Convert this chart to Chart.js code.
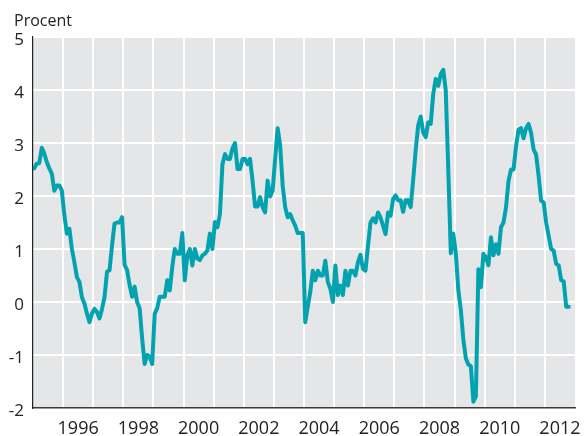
<!DOCTYPE html>
<html>
<head>
<meta charset="utf-8">
<script src="https://cdn.jsdelivr.net/npm/chart.js@4.4.1/dist/chart.umd.min.js"></script>
<style>
  html, body { margin: 0; padding: 0; background: #ffffff; }
  #wrap { width: 585px; height: 436px; position: relative; }
</style>
</head>
<body>
<div id="wrap"><canvas id="c" width="585" height="436"></canvas></div>
<script>
// Monthly values (Procent), one array per year, January first
const v1995 = [2.52, 2.61, 2.62, 2.91, 2.80, 2.64, 2.52, 2.42, 2.10, 2.20, 2.20, 2.10];
const v1996 = [1.64, 1.29, 1.38, 1.00, 0.75, 0.47, 0.38, 0.09, -0.03, -0.22, -0.38, -0.22];
const v1997 = [-0.13, -0.19, -0.31, -0.13, 0.09, 0.57, 0.60, 1.07, 1.48, 1.50, 1.50, 1.60];
const v1998 = [0.70, 0.60, 0.32, 0.10, 0.29, 0.00, -0.12, -0.69, -1.17, -1.00, -1.03, -1.17];
const v1999 = [-0.22, -0.12, 0.10, 0.10, 0.10, 0.41, 0.22, 0.66, 1.00, 0.91, 0.91, 1.30];
const v2000 = [0.41, 0.88, 1.00, 0.69, 1.00, 0.82, 0.79, 0.88, 0.91, 0.97, 1.29, 1.00];
const v2001 = [1.51, 1.41, 1.66, 2.60, 2.79, 2.70, 2.70, 2.90, 3.00, 2.51, 2.51, 2.70];
const v2002 = [2.70, 2.60, 2.70, 2.29, 1.80, 1.80, 1.98, 1.79, 1.69, 2.29, 1.99, 2.10];
const v2003 = [2.70, 3.28, 2.95, 2.20, 1.79, 1.60, 1.66, 1.54, 1.44, 1.30, 1.30, 1.30];
const v2004 = [-0.38, -0.09, 0.19, 0.59, 0.41, 0.59, 0.50, 0.50, 0.78, 0.38, 0.25, 0.00];
const v2005 = [0.69, 0.13, 0.31, 0.13, 0.59, 0.31, 0.59, 0.59, 0.50, 0.75, 0.89, 0.63];
const v2006 = [0.59, 1.06, 1.50, 1.58, 1.50, 1.69, 1.59, 1.44, 1.28, 1.69, 1.63, 1.94];
const v2007 = [2.01, 1.92, 1.92, 1.70, 1.92, 1.92, 1.79, 2.30, 2.86, 3.33, 3.50, 3.20];
const v2008 = [3.11, 3.39, 3.36, 3.92, 4.21, 4.08, 4.30, 4.38, 3.99, 2.50, 0.92, 1.29];
const v2009 = [0.92, 0.23, -0.15, -0.71, -1.06, -1.18, -1.21, -1.88, -1.78, 0.62, 0.28, 0.91];
const v2010 = [0.84, 0.69, 1.22, 0.88, 1.09, 0.91, 1.41, 1.50, 1.78, 2.28, 2.50, 2.50];
const v2011 = [2.94, 3.25, 3.28, 3.09, 3.28, 3.36, 3.19, 2.88, 2.78, 2.38, 1.91, 1.88];
const v2012 = [1.50, 1.25, 1.00, 0.97, 0.72, 0.69, 0.41, 0.39, -0.09, -0.09];

const years = [1995, 1996, 1997, 1998, 1999, 2000, 2001, 2002, 2003, 2004, 2005, 2006, 2007, 2008, 2009, 2010, 2011, 2012];
const yearValues = [v1995, v1996, v1997, v1998, v1999, v2000, v2001, v2002, v2003, v2004, v2005, v2006, v2007, v2008, v2009, v2010, v2011, v2012];

const xTickLabels = ['1996', '1998', '2000', '2002', '2004', '2006', '2008', '2010', '2012'];
const yTickValues = [-2, -1, 0, 1, 2, 3, 4, 5];
const unitLabel = 'Procent';

// Build points: month m of year y plotted at middle of the month
const points = [];
years.forEach((yr, i) => {
  yearValues[i].forEach((v, m) => points.push({ x: yr + (m + 0.5) / 12, y: v }));
});

const labelPositions = xTickLabels.map(s => parseInt(s, 10) + 0.5);
const FONT = '"Open Sans", "Noto Sans", sans-serif';

const plotBg = {
  id: 'plotBg',
  beforeDraw(chart) {
    const { ctx, chartArea: a } = chart;
    ctx.save();
    ctx.fillStyle = '#e5e6e8';
    ctx.fillRect(a.left, a.top, a.right - a.left, a.bottom - a.top);
    ctx.restore();
  },
  afterDraw(chart) {
    const { ctx } = chart;
    ctx.save();
    ctx.fillStyle = '#222222';
    ctx.font = '16px ' + FONT;
    ctx.textBaseline = 'alphabetic';
    ctx.textAlign = 'left';
    ctx.fillText(unitLabel, 14, 26);
    ctx.restore();
  }
};

new Chart(document.getElementById('c'), {
  type: 'line',
  data: {
    datasets: [{
      data: points,
      borderColor: '#02a3af',
      borderWidth: 4,
      pointRadius: 0,
      tension: 0,
      borderJoinStyle: 'round',
      borderCapStyle: 'round',
      fill: false
    }]
  },
  options: {
    responsive: false,
    animation: false,
    devicePixelRatio: 1,
    layout: { padding: { top: 37, right: 8, left: 0, bottom: 0 } },
    plugins: { legend: { display: false }, tooltip: { enabled: false }, title: { display: false } },
    scales: {
      x: {
        type: 'linear',
        min: 1995,
        max: 2013,
        afterBuildTicks(axis) {
          const t = [];
          for (let y = 1995; y <= 2013; y++) {
            t.push({ value: y });
            if (y < 2013) t.push({ value: y + 0.5 });
          }
          axis.ticks = t;
        },
        afterFit(axis) { axis.height = 28; },
        grid: {
          drawTicks: false,
          lineWidth: 2,
          color: (ctx) => (ctx.tick && Number.isInteger(ctx.tick.value) && ctx.tick.value > 1995 && ctx.tick.value < 2013) ? '#ffffff' : 'rgba(0,0,0,0)'
        },
        border: { display: true, color: '#3a3a3a', width: 1.5 },
        ticks: {
          autoSkip: false,
          maxRotation: 0,
          padding: 10,
          color: '#222222',
          font: { family: FONT, size: 18 },
          callback: (val) => {
            const i = labelPositions.indexOf(val);
            return i >= 0 ? xTickLabels[i] : '';
          }
        }
      },
      y: {
        min: -2,
        max: 5,
        afterBuildTicks(axis) { axis.ticks = yTickValues.map(v => ({ value: v })); },
        afterFit(axis) { axis.width = 33; },
        grid: { drawTicks: false, lineWidth: 2, color: '#ffffff' },
        border: { display: true, color: '#222222', width: 1.2 },
        ticks: {
          padding: 9,
          labelOffset: 3,
          color: '#222222',
          font: { family: FONT, size: 17 },
          callback: (v) => String(v)
        }
      }
    }
  },
  plugins: [plotBg]
});
</script>
</body>
</html>
